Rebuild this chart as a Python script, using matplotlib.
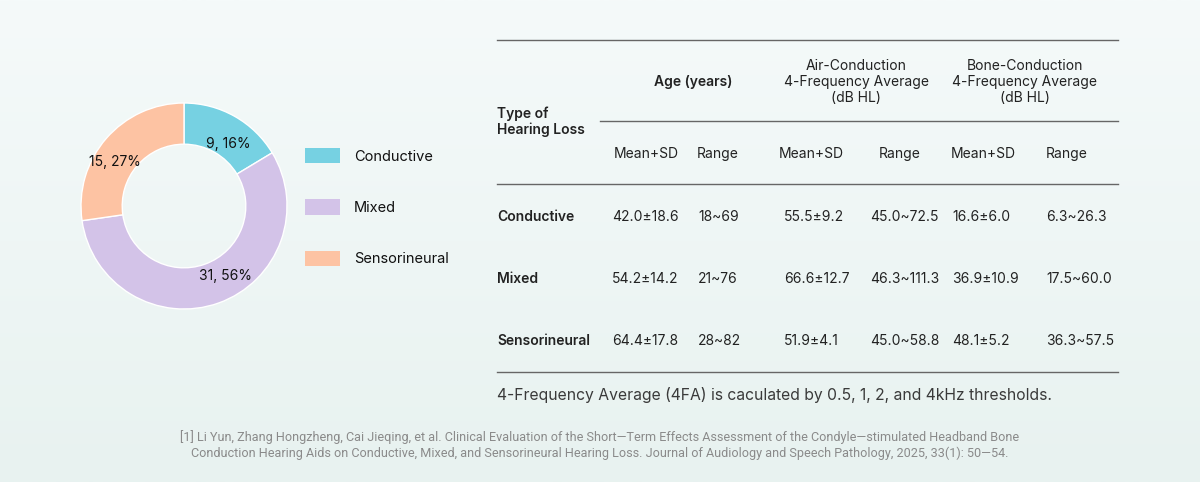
"""Hearing loss types: donut chart + summary table."""
import matplotlib.pyplot as plt
import numpy as np
from matplotlib.colors import LinearSegmentedColormap

plt.rcParams['font.family'] = ['Inter', 'DejaVu Sans']

# ---- data ----
loss_types = ["Conductive", "Mixed", "Sensorineural"]
counts = [9, 31, 15]
slice_colors = ["#76d1e2", "#d3c3e8", "#fdc3a3"]

age_mean_sd = ["42.0±18.6", "54.2±14.2", "64.4±17.8"]
age_range = ["18~69", "21~76", "28~82"]
ac_mean_sd = ["55.5±9.2", "66.6±12.7", "51.9±4.1"]
ac_range = ["45.0~72.5", "46.3~111.3", "45.0~58.8"]
bc_mean_sd = ["16.6±6.0", "36.9±10.9", "48.1±5.2"]
bc_range = ["6.3~26.3", "17.5~60.0", "36.3~57.5"]

group_headers = ["Age (years)",
                 "Air-Conduction\n4-Frequency Average\n(dB HL)",
                 "Bone-Conduction\n4-Frequency Average\n(dB HL)"]
sub_headers = ["Mean+SD", "Range"] * 3

note = "4-Frequency Average (4FA) is caculated by 0.5, 1, 2, and 4kHz thresholds."
reference = ("[1] Li Yun, Zhang Hongzheng, Cai Jieqing, et al. Clinical Evaluation of the "
             "Short\u2014Term Effects Assessment of the Condyle\u2014stimulated Headband Bone\n"
             "Conduction Hearing Aids on Conductive, Mixed, and Sensorineural Hearing Loss. "
             "Journal of Audiology and Speech Pathology, 2025, 33(1): 50\u201454.")

W, H = 1200, 482
fig = plt.figure(figsize=(W / 100, H / 100), dpi=100)

# full-figure overlay in pixel coords (y down)
bg = fig.add_axes([0, 0, 1, 1])
bg.set_xlim(0, W)
bg.set_ylim(H, 0)
bg.axis('off')
grad = LinearSegmentedColormap.from_list("bg", ["#f5fafa", "#e8f2f0"])
bg.imshow(np.linspace(0, 1, 256).reshape(-1, 1), cmap=grad, aspect='auto',
          extent=(0, W, H, 0), zorder=0)

# ---- donut ----
cx, cy, r = 184, 206, 103
pie_ax = fig.add_axes([(cx - r) / W, 1 - (cy + r) / H, 2 * r / W, 2 * r / H])
wedges, _ = pie_ax.pie(counts, colors=slice_colors, startangle=90,
                       counterclock=False, radius=1,
                       wedgeprops=dict(width=0.4, edgecolor='white', linewidth=1))
pie_ax.set_xlim(-1, 1)
pie_ax.set_ylim(-1, 1)
pie_ax.set_aspect('equal')
pie_ax.axis('off')

# small nudges (in radius units) so labels sit like the original
label_nudge = [(0.04, -0.09), (0.13, 0.07), (-0.07, -0.10)]
total = sum(counts)
for w, n, (dx, dy) in zip(wedges, counts, label_nudge):
    ang = np.deg2rad((w.theta1 + w.theta2) / 2)
    pie_ax.text(0.8 * np.cos(ang) + dx, 0.8 * np.sin(ang) + dy,
                f"{n}, {n / total:.0%}",
                ha='center', va='center', fontsize=10, color='#111111')

fig.legend(wedges, loss_types, loc='upper left',
           bbox_to_anchor=(305 / W, 1 - 148 / H), frameon=False,
           fontsize=10.5, handlelength=2.4, handleheight=1.25,
           handletextpad=0.95, labelspacing=2.45, borderpad=0, borderaxespad=0,
           labelcolor='#111111')
for h in fig.legends[0].legend_handles:
    h.set_edgecolor('none')

# ---- table ----
line_kw = dict(color='#666666', linewidth=1, zorder=2)
bg.plot([497, 1118], [40, 40], **line_kw)
bg.plot([600, 1118], [121, 121], **line_kw)
bg.plot([497, 1118], [184, 184], **line_kw)
bg.plot([497, 1118], [372, 372], **line_kw)

txt = dict(fontsize=10, color='#222222', va='center')
bg.text(497, 122, "Type of\nHearing Loss", ha='left', fontweight='semibold',
        linespacing=1.15, **txt)

group_x = [693, 856, 1025]
for gx, gh in zip(group_x, group_headers):
    bold = gh.startswith("Age")
    bg.text(gx, 82, gh, ha='center', linespacing=1.15,
            fontweight='semibold' if bold else 'normal', **txt)

head_x = [614, 697, 779, 879, 951, 1046]
for hx, sh in zip(head_x, sub_headers):
    bg.text(hx, 154, sh, ha='left', **txt)

col_x = [612, 698, 784, 870, 952, 1046]
row_y = [217, 279, 341]
columns = [age_mean_sd, age_range, ac_mean_sd, ac_range, bc_mean_sd, bc_range]
for i, (name, y) in enumerate(zip(loss_types, row_y)):
    bg.text(497, y, name, ha='left', fontweight='semibold', **txt)
    for x, col in zip(col_x, columns):
        bg.text(x, y, col[i], ha='left', **txt)

bg.text(497, 395, note, ha='left', va='center', fontsize=11.3, color='#3a3a3a')
bg.text(600, 445, reference, ha='center', va='center', fontsize=9.1,
        color='#8a8a8a', family=['Roboto', 'DejaVu Sans'], linespacing=1.25)

fig.savefig("out.png", dpi=100, facecolor='white')
plt.close(fig)
